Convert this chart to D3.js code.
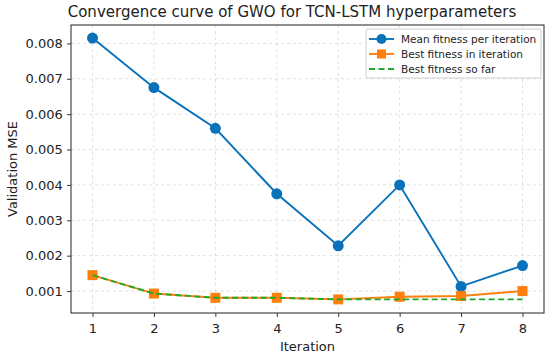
<!DOCTYPE html>
<html>
<head>
<meta charset="utf-8">
<script src="https://cdn.jsdelivr.net/npm/d3@7"></script>
<style>
    body { margin: 0; background: #fff; }
    text { font-family: "DejaVu Sans", sans-serif; fill: #222; }
</style>
</head>
<body>
<script>
const iterations = [1, 2, 3, 4, 5, 6, 7, 8];
const meanFitness = [0.00815, 0.00675, 0.0056, 0.00375, 0.00228, 0.0040, 0.00113, 0.00172];
const bestInIter = [0.00145, 0.00093, 0.00081, 0.00081, 0.000765, 0.00084, 0.00086, 0.00100];
const bestSoFar = [0.00145, 0.00093, 0.00081, 0.00081, 0.000765, 0.000765, 0.000765, 0.000765];
const yTicks = [0.001, 0.002, 0.003, 0.004, 0.005, 0.006, 0.007, 0.008];
const seriesNames = ["Mean fitness per iteration", "Best fitness in iteration", "Best fitness so far"];

const width = 550, height = 356;
const margin = {top: 25, right: 6, bottom: 43, left: 71};
const colors = {mean: "#0a72ba", best: "#ff7f0e", sofar: "#1daa2a"};

const svg = d3.select("body").append("svg")
    .attr("width", width)
    .attr("height", height);

const x = d3.scaleLinear()
    .domain([0.65, 8.35])
    .range([margin.left, width - margin.right]);
const y = d3.scaleLinear()
    .domain([0.00038, 0.00852])
    .range([height - margin.bottom, margin.top]);

// grid
const grid = svg.append("g").attr("class", "grid");
grid.selectAll("line.v")
    .data(iterations)
    .join("line")
    .attr("x1", d => x(d)).attr("x2", d => x(d))
    .attr("y1", margin.top).attr("y2", height - margin.bottom)
    .attr("stroke", "#d9d9d9").attr("stroke-width", 0.8)
    .attr("stroke-dasharray", "3,3");
grid.selectAll("line.h")
    .data(yTicks)
    .join("line")
    .attr("x1", margin.left).attr("x2", width - margin.right)
    .attr("y1", d => y(d)).attr("y2", d => y(d))
    .attr("stroke", "#d9d9d9").attr("stroke-width", 0.8)
    .attr("stroke-dasharray", "3,3");

// axes
const xAxis = svg.append("g")
    .attr("transform", `translate(0,${height - margin.bottom})`)
    .call(d3.axisBottom(x).tickValues(iterations).tickFormat(d3.format("d")).tickSize(4).tickSizeOuter(0));
const yAxis = svg.append("g")
    .attr("transform", `translate(${margin.left},0)`)
    .call(d3.axisLeft(y).tickValues(yTicks).tickFormat(d3.format(".3f")).tickSize(4).tickSizeOuter(0));
[xAxis, yAxis].forEach(a => {
    a.select(".domain").remove();
    a.selectAll(".tick line").attr("stroke", "#222").attr("stroke-width", 0.9);
    a.selectAll(".tick text").style("font-size", "13px").attr("fill", "#222");
});
xAxis.selectAll(".tick text").attr("dy", "1.0em");
yAxis.selectAll(".tick text").attr("dx", "-0.1em");

// frame
svg.append("rect")
    .attr("x", margin.left).attr("y", margin.top)
    .attr("width", width - margin.left - margin.right)
    .attr("height", height - margin.top - margin.bottom)
    .attr("fill", "none").attr("stroke", "#222").attr("stroke-width", 1);

const line = d3.line().x((d, i) => x(iterations[i])).y(d => y(d));

// mean
svg.append("path").datum(meanFitness)
    .attr("d", line).attr("fill", "none")
    .attr("stroke", colors.mean).attr("stroke-width", 1.9);
svg.append("g").selectAll("circle")
    .data(meanFitness)
    .join("circle")
    .attr("cx", (d, i) => x(iterations[i])).attr("cy", d => y(d))
    .attr("r", 5.5).attr("fill", colors.mean);

// best in iteration
svg.append("path").datum(bestInIter)
    .attr("d", line).attr("fill", "none")
    .attr("stroke", colors.best).attr("stroke-width", 1.9);
svg.append("g").selectAll("rect")
    .data(bestInIter)
    .join("rect")
    .attr("x", (d, i) => x(iterations[i]) - 5).attr("y", d => y(d) - 5)
    .attr("width", 10).attr("height", 10).attr("fill", colors.best);

// best so far
svg.append("path").datum(bestSoFar)
    .attr("d", line).attr("fill", "none")
    .attr("stroke", colors.sofar).attr("stroke-width", 1.9)
    .attr("stroke-dasharray", "6,3.5");

// legend
const lg = svg.append("g").attr("transform", "translate(366,29)");
lg.append("rect")
    .attr("width", 175).attr("height", 49).attr("rx", 2)
    .attr("fill", "#fff").attr("fill-opacity", 0.85)
    .attr("stroke", "#d0d0d0");
const legendColors = [colors.mean, colors.best, colors.sofar];
seriesNames.forEach((name, i) => {
    const cy = 10 + i * 15;
    const row = lg.append("g");
    row.append("line")
        .attr("x1", 3).attr("x2", 28).attr("y1", cy).attr("y2", cy)
        .attr("stroke", legendColors[i]).attr("stroke-width", 1.9)
        .attr("stroke-dasharray", i === 2 ? "6,3.5" : null);
    if (i === 0) row.append("circle").attr("cx", 15.5).attr("cy", cy).attr("r", 5).attr("fill", legendColors[i]);
    if (i === 1) row.append("rect").attr("x", 11).attr("y", cy - 4.5).attr("width", 9).attr("height", 9).attr("fill", legendColors[i]);
    row.append("text")
        .attr("x", 35).attr("y", cy).attr("dy", "0.35em")
        .style("font-size", "10.5px").text(name);
});

// title and labels
svg.append("text")
    .attr("x", 292).attr("y", 17)
    .attr("text-anchor", "middle").style("font-size", "15px")
    .text("Convergence curve of GWO for TCN-LSTM hyperparameters");
svg.append("text")
    .attr("x", (margin.left + width - margin.right) / 2).attr("y", 351)
    .attr("text-anchor", "middle").style("font-size", "13px")
    .text("Iteration");
svg.append("text")
    .attr("transform", `translate(17,${(margin.top + height - margin.bottom) / 2}) rotate(-90)`)
    .attr("text-anchor", "middle").style("font-size", "13px")
    .text("Validation MSE");
</script>
</body>
</html>
